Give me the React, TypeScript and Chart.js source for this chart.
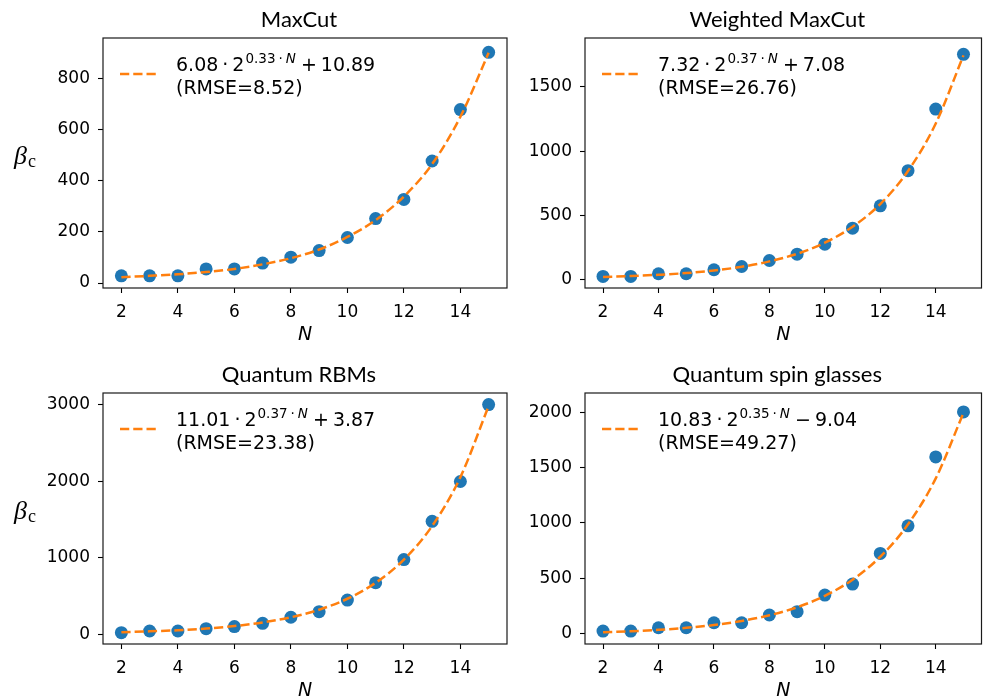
import React, { useEffect, useRef } from 'react';
import { Chart, registerables } from 'chart.js';

Chart.register(...registerables);

// ---- data ----
const N = [2, 3, 4, 5, 6, 7, 8, 9, 10, 11, 12, 13, 14, 15];
const maxcutBeta = [28, 28, 28, 55, 55, 78, 101, 127, 178, 252, 327, 477, 678, 902];
const maxcutFit = [23, 28, 34, 43, 55, 73, 97, 131, 180, 246, 338, 465, 650, 900];
const weightedBeta = [26, 26, 47, 47, 78, 103, 150, 199, 276, 401, 575, 848, 1327, 1753];
const weightedFit = [22, 29, 39, 52, 72, 101, 143, 202, 288, 412, 589, 846, 1215, 1745];
const rbmBeta = [21, 43, 43, 73, 100, 143, 222, 295, 447, 673, 975, 1475, 1995, 3000];
const rbmFit = [27, 38, 53, 75, 107, 154, 222, 321, 464, 672, 975, 1414, 2052, 2980];
const spinBeta = [24, 24, 54, 54, 99, 99, 169, 199, 349, 448, 725, 974, 1597, 2003];
const spinFit = [13, 22, 35, 53, 78, 115, 166, 239, 342, 488, 695, 988, 1403, 1995];

const xTicks = [2, 4, 6, 8, 10, 12, 14];
const maxcutYTicks = [0, 200, 400, 600, 800];
const weightedYTicks = [0, 500, 1000, 1500];
const rbmYTicks = [0, 1000, 2000, 3000];
const spinYTicks = [0, 500, 1000, 1500, 2000];

const titles = ['MaxCut', 'Weighted MaxCut', 'Quantum RBMs', 'Quantum spin glasses'];
const coefs = ['6.08', '7.32', '11.01', '10.83'];
const exps = ['0.33', '0.37', '0.37', '0.35'];
const tailOps = ['+', '+', '+', '\u2212'];
const tailVals = ['10.89', '7.08', '3.87', '9.04'];
const rmses = ['8.52', '26.76', '23.38', '49.27'];

// ---- layout ----
const panels = [
  {
    beta: maxcutBeta, fit: maxcutFit, yTicks: maxcutYTicks, yMin: -19.5, yMax: 958,
    box: { left: 0, top: 0, width: 518, height: 350 },
    area: { left: 103, top: 38, right: 507, bottom: 288 },
    yLabel: true, yLabelBase: 164,
  },
  {
    beta: weightedBeta, fit: weightedFit, yTicks: weightedYTicks, yMin: -64, yMax: 1880,
    box: { left: 518, top: 0, width: 470, height: 350 },
    area: { left: 67, top: 38, right: 469, bottom: 288 },
    yLabel: false, yLabelBase: 0,
  },
  {
    beta: rbmBeta, fit: rbmFit, yTicks: rbmYTicks, yMin: -127, yMax: 3151,
    box: { left: 0, top: 350, width: 518, height: 349 },
    area: { left: 103, top: 43, right: 507, bottom: 294 },
    yLabel: true, yLabelBase: 164,
  },
  {
    beta: spinBeta, fit: spinFit, yTicks: spinYTicks, yMin: -93, yMax: 2174,
    box: { left: 518, top: 350, width: 470, height: 349 },
    area: { left: 67, top: 43, right: 469, bottom: 294 },
    yLabel: false, yLabelBase: 0,
  },
];

const BLUE = '#1f77b4';
const ORANGE = '#ff7f0e';
const TICK_FONT = { family: '"DejaVu Sans", sans-serif', size: 17 };

function Panel({ idx }: { idx: number }) {
  const ref = useRef<HTMLCanvasElement | null>(null);
  const p = panels[idx];

  useEffect(() => {
    if (!ref.current) return;
    const { box, area } = p;

    const deco = {
      id: 'deco' + idx,
      afterDraw(chart: any) {
        const ctx = chart.ctx as CanvasRenderingContext2D;
        const a = chart.chartArea;
        ctx.save();
        ctx.setLineDash([]);
        // frame
        ctx.strokeStyle = '#1a1a1a';
        ctx.lineWidth = 1.2;
        ctx.strokeRect(a.left, a.top, a.right - a.left, a.bottom - a.top);

        ctx.fillStyle = '#000';
        ctx.textBaseline = 'alphabetic';
        // title
        ctx.font = '22px Lato';
        ctx.textAlign = 'center';
        ctx.fillText(titles[idx], (a.left + a.right) / 2 - 6, a.top - 11);
        // x label
        ctx.font = 'italic 19px "DejaVu Sans"';
        ctx.fillText('N', (a.left + a.right) / 2, a.bottom + 52);

        // y label beta_c
        if (p.yLabel) {
          ctx.textAlign = 'left';
          ctx.font = 'italic 26px "Liberation Serif"';
          const yb = p.yLabelBase + (a.top - 38);
          ctx.fillText('\u03b2', 14, yb);
          const bw = ctx.measureText('\u03b2').width;
          ctx.font = '18px "Liberation Serif"';
          ctx.fillText('c', 14 + bw + 1, yb + 3);
        }

        // legend handle
        const hx = a.left + 17;
        const hy = a.top + 36;
        ctx.strokeStyle = ORANGE;
        ctx.lineWidth = 2.5;
        ctx.setLineDash([9.25, 4]);
        ctx.beginPath();
        ctx.moveTo(hx, hy);
        ctx.lineTo(hx + 37, hy);
        ctx.stroke();
        ctx.setLineDash([]);

        // legend text
        ctx.fillStyle = '#000';
        ctx.textAlign = 'left';
        const tx = a.left + 73;
        const b1 = a.top + 33;
        const b2 = a.top + 56;
        const big = '19px "DejaVu Sans"';
        const small = '13.5px "DejaVu Sans"';
        const smallIt = 'italic 13.5px "DejaVu Sans"';
        const parts = [
          { t: coefs[idx], f: big, dy: 0, gap: 4 },
          { t: '\u00b7', f: big, dy: 0, gap: 4 },
          { t: '2', f: big, dy: 0, gap: 1 },
          { t: exps[idx], f: small, dy: -8, gap: 3 },
          { t: '\u00b7', f: small, dy: -8, gap: 3 },
          { t: 'N', f: smallIt, dy: -8, gap: 5 },
          { t: tailOps[idx], f: big, dy: 0, gap: 4 },
          { t: tailVals[idx], f: big, dy: 0, gap: 0 },
        ];
        let x = tx;
        for (const part of parts) {
          ctx.font = part.f;
          ctx.fillText(part.t, x, b1 + part.dy);
          x += ctx.measureText(part.t).width + part.gap;
        }
        ctx.font = big;
        ctx.fillText('(RMSE=' + rmses[idx] + ')', tx, b2);
        ctx.restore();
      },
    };

    const chart = new Chart(ref.current, {
      type: 'scatter',
      data: {
        datasets: [
          {
            type: 'line',
            label: 'fit',
            data: N.map((n, i) => ({ x: n, y: p.fit[i] })),
            borderColor: ORANGE,
            backgroundColor: ORANGE,
            borderWidth: 2.5,
            borderDash: [9.25, 4],
            pointRadius: 0,
            fill: false,
            cubicInterpolationMode: 'monotone',
            order: 0,
          } as any,
          {
            type: 'scatter',
            label: 'data',
            data: N.map((n, i) => ({ x: n, y: p.beta[i] })),
            backgroundColor: BLUE,
            borderColor: BLUE,
            borderWidth: 0,
            pointRadius: 6.5,
            order: 1,
          } as any,
        ],
      },
      options: {
        responsive: false,
        maintainAspectRatio: false,
        animation: false,
        devicePixelRatio: 1,
        layout: {
          padding: { left: 0, top: area.top, right: box.width - area.right, bottom: 0 },
        },
        plugins: {
          legend: { display: false },
          title: { display: false },
          tooltip: { enabled: false },
        },
        scales: {
          x: {
            type: 'linear',
            min: 1.35,
            max: 15.65,
            afterBuildTicks: (s: any) => {
              s.ticks = xTicks.map((v) => ({ value: v }));
            },
            afterFit: (s: any) => {
              s.height = box.height - area.bottom;
            },
            grid: {
              display: true,
              drawOnChartArea: false,
              drawTicks: true,
              tickLength: 5,
              tickColor: '#000',
              tickWidth: 1.1,
            },
            border: { display: false },
            ticks: {
              color: '#000',
              font: TICK_FONT,
              padding: 9,
              maxRotation: 0,
              autoSkip: false,
              callback: (v: any) => String(v),
            },
          },
          y: {
            type: 'linear',
            min: p.yMin,
            max: p.yMax,
            afterBuildTicks: (s: any) => {
              s.ticks = p.yTicks.map((v) => ({ value: v }));
            },
            afterFit: (s: any) => {
              s.width = area.left;
            },
            grid: {
              display: true,
              drawOnChartArea: false,
              drawTicks: true,
              tickLength: 5,
              tickColor: '#000',
              tickWidth: 1.1,
            },
            border: { display: false },
            ticks: {
              color: '#000',
              font: TICK_FONT,
              padding: 8,
              autoSkip: false,
              callback: (v: any) => String(v),
            },
          },
        },
      } as any,
      plugins: [deco],
    });
    return () => chart.destroy();
  }, []);

  return (
    <canvas
      ref={ref}
      width={p.box.width}
      height={p.box.height}
      style={{
        position: 'absolute',
        left: p.box.left,
        top: p.box.top,
        width: p.box.width,
        height: p.box.height,
      }}
    />
  );
}

export default function App() {
  return (
    <div
      style={{
        position: 'absolute',
        left: 0,
        top: 0,
        width: 988,
        height: 699,
        background: '#fff',
        overflow: 'hidden',
      }}
    >
      {panels.map((_, i) => (
        <Panel key={i} idx={i} />
      ))}
    </div>
  );
}
